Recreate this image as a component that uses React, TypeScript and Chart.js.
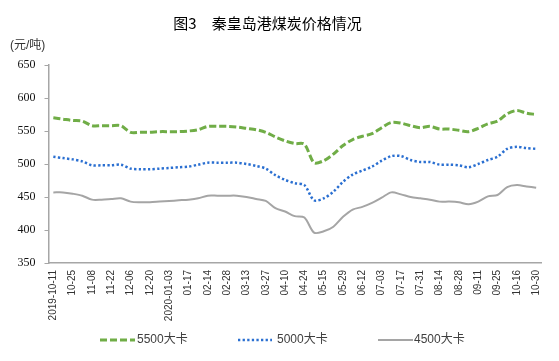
import React, { useEffect, useRef } from 'react';
import { Chart, registerables } from 'chart.js';

Chart.register(...registerables);

// Category labels (weekly), tick labels shown on every other category
const categories = [
  '2019-10-11', '10-18', '10-25', '11-01', '11-08', '11-15', '11-22', '11-29',
  '12-06', '12-13', '12-20', '12-27', '2020-01-03', '01-10', '01-17', '02-07',
  '02-14', '02-21', '02-28', '03-06', '03-13', '03-20', '03-27', '04-03',
  '04-10', '04-17', '04-24', '05-08', '05-15', '05-22', '05-29', '06-05',
  '06-12', '06-24', '07-03', '07-10', '07-17', '07-24', '07-31', '08-07',
  '08-14', '08-21', '08-28', '09-04', '09-11', '09-18', '09-25', '10-09',
  '10-16', '10-23', '10-30',
];

const series5500 = [
  570, 568, 566, 565, 558, 558, 558, 558, 548, 548, 548, 549, 549, 549, 550, 552,
  557, 557, 557, 556, 554, 552, 548, 541, 535, 531, 530, 502, 505, 515, 528, 537,
  542, 546, 555, 563, 562, 558, 555, 557, 553, 553, 551, 549, 554, 561, 565, 576,
  581, 577, 575,
];

const series5000 = [
  511, 509, 507, 504, 498, 498, 498, 499, 493, 492, 492, 493, 494, 495, 496, 499,
  502, 502, 502, 502, 500, 497, 493, 483, 476, 471, 468, 445, 448, 458, 473, 484,
  490, 496, 505, 512, 512, 506, 503, 503, 499, 499, 498, 495, 500, 506, 511, 523,
  526, 524, 523,
];

const series4500 = [
  457, 457, 455, 452, 446, 446, 447, 448, 443, 442, 442, 443, 444, 445, 446, 448,
  452, 452, 452, 452, 450, 447, 444, 433, 428, 421, 419, 396, 398, 405, 420, 431,
  435, 441, 449, 457, 454, 450, 448, 446, 443, 443, 442, 439, 443, 451, 453, 465,
  468, 466, 464,
];

const seriesNames = ['5500大卡', '5000大卡', '4500大卡'];
const yMin = 350;
const yMax = 650;
const yStep = 50;

const TITLE = '图3\u3000秦皇岛港煤炭价格情况';
const UNIT = '(元/吨)';

const overlayPlugin = {
  id: 'overlay',
  afterDraw(chart: any) {
    const ctx = chart.ctx as CanvasRenderingContext2D;
    ctx.save();
    ctx.fillStyle = '#000';
    ctx.font = '15px "Noto Sans CJK SC"';
    ctx.textAlign = 'center';
    ctx.textBaseline = 'middle';
    ctx.fillText(TITLE, 267.5, 23);

    ctx.font = '12px "Liberation Sans", "Noto Sans CJK SC"';
    ctx.textAlign = 'left';
    ctx.fillStyle = '#333';
    ctx.fillText(UNIT, 10, 46);

    const legendPos = [
      { x0: 100, x1: 135, tx: 137 },
      { x0: 238, x1: 272, tx: 277 },
      { x0: 378, x1: 413, tx: 414 },
    ];
    const ly = 340;
    chart.data.datasets.forEach((ds: any, i: number) => {
      const p = legendPos[i];
      ctx.strokeStyle = ds.borderColor;
      ctx.lineWidth = ds.borderWidth;
      ctx.setLineDash(ds.borderDash || []);
      ctx.beginPath();
      ctx.moveTo(p.x0, ly);
      ctx.lineTo(p.x1, ly);
      ctx.stroke();
      ctx.setLineDash([]);
      ctx.fillStyle = '#404040';
      ctx.fillText(ds.label, p.tx, ly);
    });
    ctx.restore();
  },
};

export default function App() {
  const ref = useRef<HTMLCanvasElement | null>(null);

  useEffect(() => {
    if (!ref.current) return;
    const chart = new Chart(ref.current, {
      type: 'line',
      data: {
        labels: categories,
        datasets: [
          {
            label: seriesNames[0],
            data: series5500,
            borderColor: '#70ad47',
            borderWidth: 3,
            borderDash: [7, 3],
            pointRadius: 0,
            tension: 0.3,
            fill: false,
          },
          {
            label: seriesNames[1],
            data: series5000,
            borderColor: '#2a6fd1',
            borderWidth: 2.5,
            borderDash: [2.3, 2.3],
            pointRadius: 0,
            tension: 0.3,
            fill: false,
          },
          {
            label: seriesNames[2],
            data: series4500,
            borderColor: '#a5a5a5',
            borderWidth: 2,
            pointRadius: 0,
            tension: 0.3,
            fill: false,
          },
        ],
      },
      options: {
        animation: false,
        responsive: false,
        devicePixelRatio: 1,
        layout: { padding: { top: 65, left: 10, right: 18, bottom: 36 } },
        plugins: {
          legend: { display: false },
          title: { display: false },
          tooltip: { enabled: false },
        },
        scales: {
          x: {
            type: 'category',
            offset: true,
            grid: { display: true, drawOnChartArea: false, drawTicks: false },
            border: { display: true, color: '#a6a6a6', width: 1.5 },
            ticks: {
              autoSkip: false,
              minRotation: 90,
              maxRotation: 90,
              padding: 7,
              color: '#333',
              font: { family: '"Liberation Sans", Arial, sans-serif', size: 10 },
              callback: function (this: any, val: any, idx: number) {
                return idx % 2 === 0 ? categories[idx] : '';
              },
            },
            afterFit: (s: any) => {
              s.height = 62;
            },
          },
          y: {
            min: yMin,
            max: yMax,
            grid: {
              display: true,
              drawOnChartArea: false,
              drawTicks: true,
              tickLength: 4,
              color: '#a6a6a6',
            },
            border: { display: true, color: '#a6a6a6', width: 1.5 },
            ticks: {
              stepSize: yStep,
              padding: 9,
              color: '#111',
              font: { family: '"Liberation Serif", "Times New Roman", serif', size: 12 },
            },
            afterFit: (s: any) => {
              s.width = 38.5;
            },
          },
        },
      },
      plugins: [overlayPlugin],
    });
    return () => chart.destroy();
  }, []);

  return (
    <div style={{ position: 'fixed', left: 0, top: 0, width: 559, height: 361, background: '#fff' }}>
      <canvas ref={ref} width={559} height={361} style={{ display: 'block' }} />
    </div>
  );
}
